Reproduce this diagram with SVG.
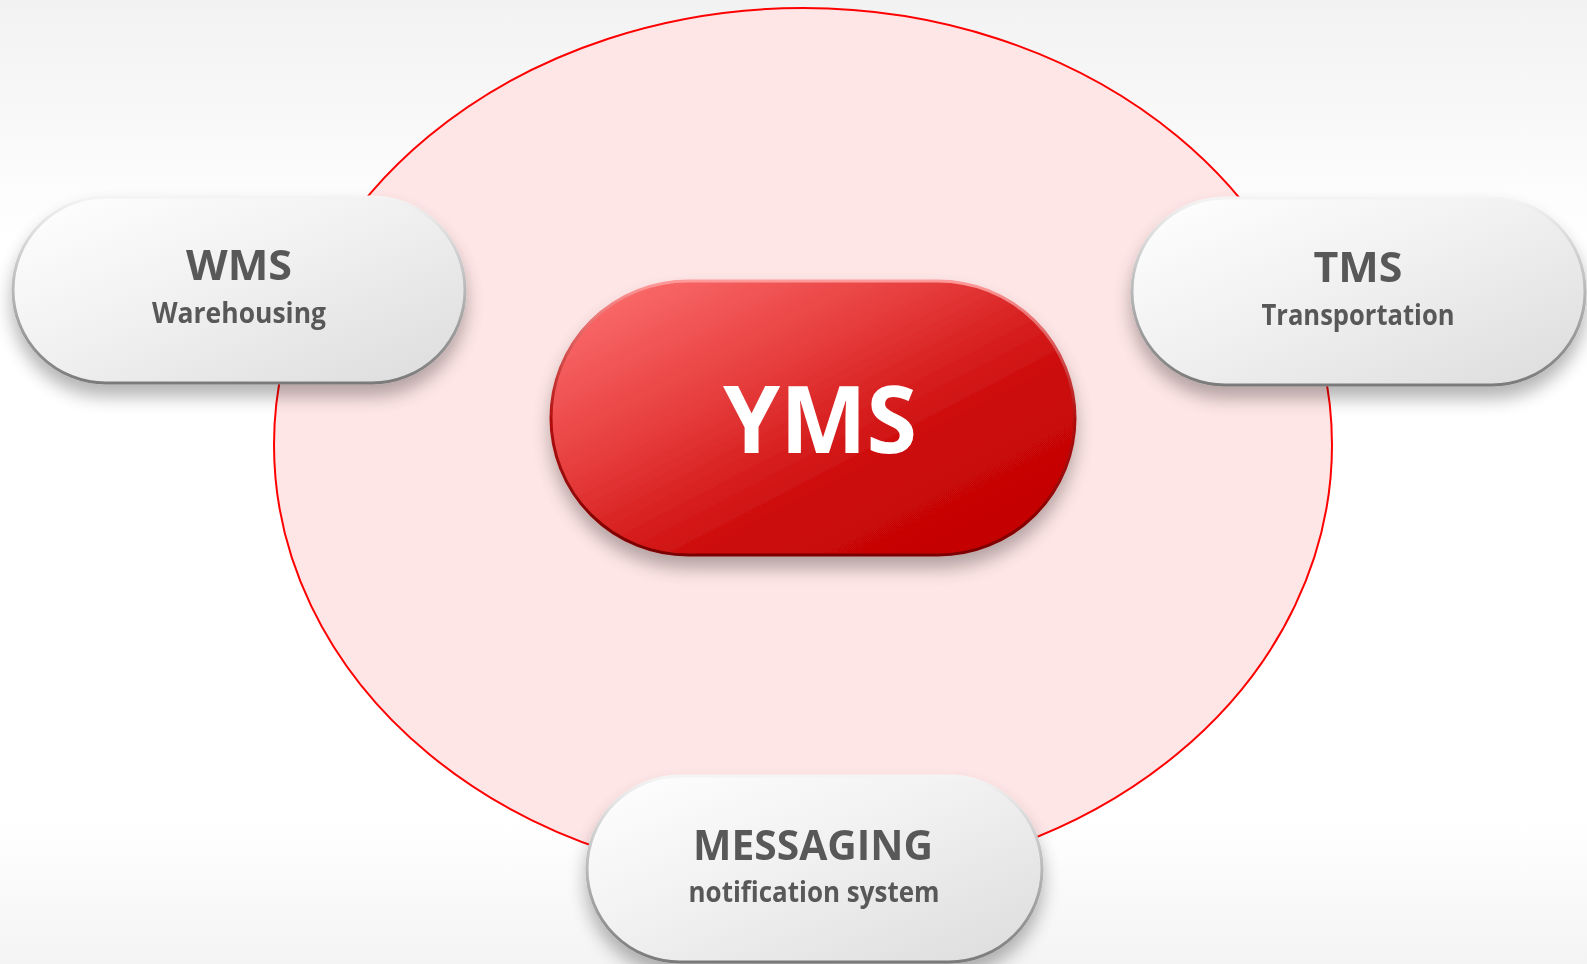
<svg xmlns="http://www.w3.org/2000/svg" width="1587" height="964" viewBox="0 0 1587 964">
  <defs>
    <linearGradient id="bg" x1="0" y1="0" x2="0" y2="1">
      <stop offset="0" stop-color="#f2f2f2"/>
      <stop offset="0.25" stop-color="#ffffff"/>
      <stop offset="0.85" stop-color="#ffffff"/>
      <stop offset="1" stop-color="#f4f4f4"/>
    </linearGradient>
    <linearGradient id="grayFill" x1="0" y1="0" x2="1" y2="1">
      <stop offset="0" stop-color="#ffffff"/>
      <stop offset="0.45" stop-color="#f1f1f1"/>
      <stop offset="1" stop-color="#dcdcdc"/>
    </linearGradient>
    <linearGradient id="grayRim" x1="0" y1="0" x2="0" y2="1">
      <stop offset="0" stop-color="#f4f4f4"/>
      <stop offset="0.5" stop-color="#b8b8b8"/>
      <stop offset="1" stop-color="#7a7a7a"/>
    </linearGradient>
    <linearGradient id="redFill" x1="0" y1="0" x2="1" y2="1">
      <stop offset="0" stop-color="#ff7676"/>
      <stop offset="0.35" stop-color="#e84040"/>
      <stop offset="0.65" stop-color="#cc0a0a"/>
      <stop offset="1" stop-color="#c00000"/>
    </linearGradient>
    <linearGradient id="redRim" x1="0" y1="0" x2="0" y2="1">
      <stop offset="0" stop-color="#ff9a9a"/>
      <stop offset="0.5" stop-color="#b01010"/>
      <stop offset="1" stop-color="#7a0000"/>
    </linearGradient>
    <filter id="shadow" x="-20%" y="-20%" width="140%" height="160%">
      <feGaussianBlur in="SourceAlpha" stdDeviation="9"/>
      <feOffset dx="0" dy="12" result="b"/>
      <feComponentTransfer in="b" result="s">
        <feFuncA type="linear" slope="0.3"/>
      </feComponentTransfer>
      <feMerge>
        <feMergeNode in="s"/>
        <feMergeNode in="SourceGraphic"/>
      </feMerge>
    </filter>
  </defs>
  <style>
    .pill { fill: url(#grayFill); stroke: url(#grayRim); stroke-width: 3; }
    .red { fill: url(#redFill); stroke: url(#redRim); stroke-width: 3; }
    .title { font-family: "Open Sans", "Liberation Sans", sans-serif; font-weight: 700; font-size: 42px; fill: #595959; text-anchor: middle; }
    .sub { font-family: "Open Sans", "Liberation Sans", sans-serif; font-weight: 700; font-size: 28px; fill: #595959; text-anchor: middle; }
    .big { font-family: "Open Sans", "Liberation Sans", sans-serif; font-weight: 700; font-size: 94px; fill: #ffffff; text-anchor: middle; }
  </style>

  <rect x="0" y="0" width="1587" height="964" fill="url(#bg)"/>

  <g id="ring">
    <ellipse cx="803" cy="445" rx="529" ry="437" fill="#ffe6e6" stroke="#ff0000" stroke-width="2"/>
  </g>

  <g id="connectors"/>

  <g id="node-yms" filter="url(#shadow)">
    <rect class="red" x="551" y="281" width="524" height="274" rx="137" ry="137"/>
    <text class="big" x="820" y="453" textLength="194" lengthAdjust="spacingAndGlyphs">YMS</text>
  </g>

  <g id="node-wms" filter="url(#shadow)">
    <rect class="pill" x="13" y="197" width="452" height="186" rx="93" ry="93"/>
    <text class="title" x="239" y="280" textLength="106" lengthAdjust="spacingAndGlyphs">WMS</text>
    <text class="sub" x="239" y="323" textLength="174" lengthAdjust="spacingAndGlyphs">Warehousing</text>
  </g>

  <g id="node-tms" filter="url(#shadow)">
    <rect class="pill" x="1132" y="198" width="453" height="187" rx="93" ry="93"/>
    <text class="title" x="1358" y="282" textLength="89" lengthAdjust="spacingAndGlyphs">TMS</text>
    <text class="sub" x="1358" y="325" textLength="193" lengthAdjust="spacingAndGlyphs">Transportation</text>
  </g>

  <g id="node-messaging" filter="url(#shadow)">
    <rect class="pill" x="587" y="776" width="455" height="186" rx="93" ry="93"/>
    <text class="title" x="813" y="860" textLength="240" lengthAdjust="spacingAndGlyphs">MESSAGING</text>
    <text class="sub" x="814" y="902" textLength="251" lengthAdjust="spacingAndGlyphs">notification system</text>
  </g>
</svg>
